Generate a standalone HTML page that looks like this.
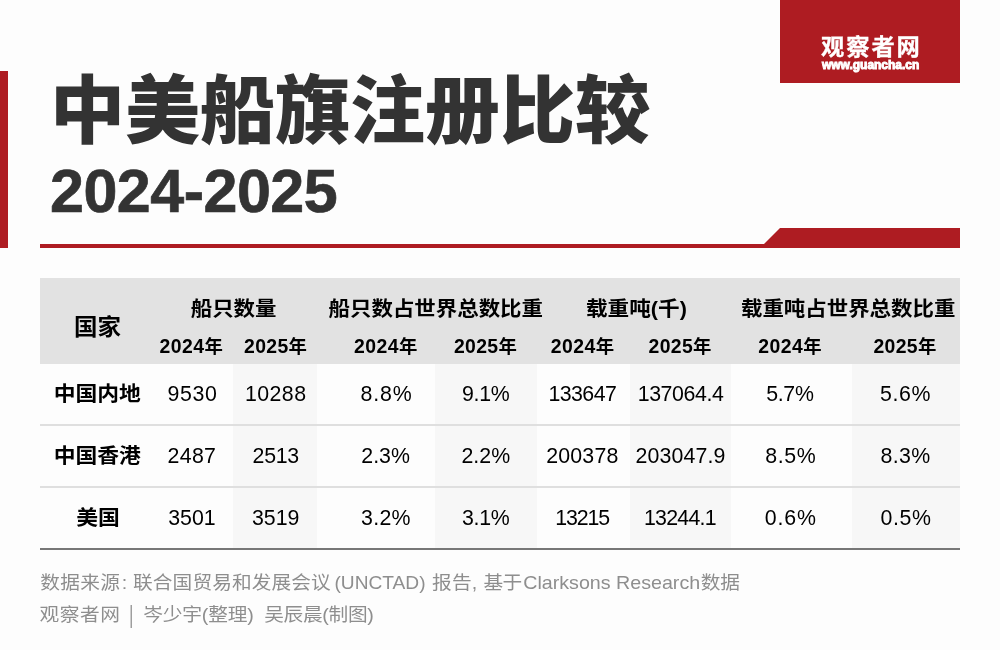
<!DOCTYPE html>
<html lang="zh-CN">
<head>
<meta charset="utf-8">
<title>中美船旗注册比较 2024-2025</title>
<style>
*{box-sizing:border-box;margin:0;padding:0}
html,body{width:1000px;height:650px;overflow:hidden;background:#fdfdfd}
body{position:relative;font-family:"Liberation Sans","Noto Sans CJK SC",sans-serif;color:#000}
.abs{position:absolute;white-space:nowrap}
.accent{left:0;top:71px;width:8px;height:177px;background:#ae1c22}
.logo{left:780px;top:0;width:180px;height:83px;background:#ae1c22;color:#fff}
.logo .cn{left:41px;top:29px;font-size:23.3px;line-height:36px;font-weight:700;letter-spacing:1.9px;-webkit-text-stroke:.3px #fff;transform:scaleY(.96);transform-origin:0 84%}
.logo .url{left:41.5px;top:57px;font-size:11.5px;line-height:16px;font-weight:700;transform-origin:0 50%;-webkit-text-stroke:.9px #fff;transform:scale(1.04,1.08)}
h1{left:50px;top:56px;font-size:75px;line-height:110px;font-weight:900;color:#333;transform:scaleY(.985);transform-origin:0 50%}
h2{left:50px;top:150px;font-size:61px;line-height:82px;font-weight:700;color:#333;letter-spacing:-.5px;-webkit-text-stroke:.7px #333}
.rule{left:0;top:0;width:1000px;height:650px}
table{position:absolute;left:40px;top:278px;width:920px;border-collapse:separate;border-spacing:0;table-layout:fixed;font-size:21.33px}
th,td{white-space:nowrap;text-align:left;vertical-align:middle;padding:0;font-weight:400;line-height:30px}
thead th{background:#e2e2e2;font-weight:700}
thead tr.g th{height:50px;padding-top:12px}
thead tr.y th{height:36px;font-size:18.4px;padding-top:0;padding-bottom:0;letter-spacing:.35px}
thead tr.y th b{font-size:19.4px;font-weight:700}
thead th.c{padding-top:10px;font-size:23px}
tbody td,tbody th{height:62px;border-bottom:2px solid #dfdfdf}
tbody th{font-weight:700}
tbody tr:last-child td,tbody tr:last-child th{border-bottom:2px solid #777}
td.s{background:#f7f7f7}
.k{display:inline-block;transform:scaleY(.945)}
.foot{left:0;font-size:19.7px;line-height:30px;color:#8e8e8e;transform:scaleY(.945)}
.foot span{line-height:0}
.foot #f2b{display:inline-block;transform:scaleX(.62)}
</style>
</head>
<body>
<div class="abs accent"></div>
<div class="abs logo">
  <div class="abs cn">观察者网</div>
  <div class="abs url">www.guancha.cn</div>
</div>
<h1 class="abs">中美船旗注册比较</h1>
<h2 class="abs">2024-2025</h2>
<svg class="abs rule" width="1000" height="650" viewBox="0 0 1000 650" aria-hidden="true">
  <polygon points="40,244 764,244 780,228 960,228 960,248 40,248" fill="#ae1c22"/>
</svg>
<table>
  <colgroup><col style="width:110px"><col style="width:83px"><col style="width:84px"><col style="width:118px"><col style="width:102px"><col style="width:93px"><col style="width:101px"><col style="width:121px"><col style="width:108px"></colgroup>
  <thead>
    <tr class="g">
      <th rowspan="2" class="c" id="hc" style="padding-left:34.00px;font-size:23.47px;"><span class="k">国家</span></th>
      <th colspan="2" id="s0" style="padding-left:40.75px;font-size:21.45px;"><span class="k">船只数量</span></th>
      <th colspan="2" id="s1" style="padding-left:11.60px;font-size:21.45px;"><span class="k">船只数占世界总数比重</span></th>
      <th colspan="2" id="s2" style="padding-left:49.00px;font-size:21.62px;"><span class="k">载重吨(千)</span></th>
      <th colspan="2" id="s3" style="padding-left:10.00px;font-size:21.45px;"><span class="k">载重吨占世界总数比重</span></th>
    </tr>
    <tr class="y">
      <th id="y0" style="padding-left:9.50px;letter-spacing:0.44px;"><b>2024</b>年</th>
      <th id="y1" style="padding-left:11.00px;letter-spacing:0.36px;"><b>2025</b>年</th>
      <th id="y2" style="padding-left:37.00px;letter-spacing:0.44px;"><b>2024</b>年</th>
      <th id="y3" style="padding-left:19.00px;letter-spacing:0.32px;"><b>2025</b>年</th>
      <th id="y4" style="padding-left:13.75px;letter-spacing:0.44px;"><b>2024</b>年</th>
      <th id="y5" style="padding-left:18.50px;letter-spacing:0.35px;"><b>2025</b>年</th>
      <th id="y6" style="padding-left:27.25px;letter-spacing:0.44px;"><b>2024</b>年</th>
      <th id="y7" style="padding-left:21.50px;letter-spacing:0.31px;"><b>2025</b>年</th>
    </tr>
  </thead>
  <tbody>
    <tr>
      <th id="r0" style="padding-left:13.70px;font-size:21.80px;"><span class="k">中国内地</span></th>
      <td id="d00" style="padding-left:17.60px;letter-spacing:0.60px;">9530</td>
      <td id="d01" class="s" style="padding-left:11.90px;letter-spacing:0.45px;">10288</td>
      <td id="d02" style="padding-left:43.50px;letter-spacing:0.90px;">8.8%</td>
      <td id="d03" class="s" style="padding-left:27.00px;letter-spacing:-0.30px;">9.1%</td>
      <td id="d04" style="padding-left:11.50px;letter-spacing:-0.58px;">133647</td>
      <td id="d05" class="s" style="padding-left:7.70px;letter-spacing:-0.40px;">137064.4</td>
      <td id="d06" style="padding-left:35.20px;letter-spacing:-0.30px;">5.7%</td>
      <td id="d07" class="s" style="padding-left:28.00px;letter-spacing:0.60px;">5.6%</td>
    </tr>
    <tr>
      <th id="r1" style="padding-left:13.70px;font-size:21.80px;"><span class="k">中国香港</span></th>
      <td id="d10" style="padding-left:17.60px;letter-spacing:0.30px;">2487</td>
      <td id="d11" class="s" style="padding-left:19.60px;letter-spacing:-0.30px;">2513</td>
      <td id="d12" style="padding-left:44.30px;">2.3%</td>
      <td id="d13" class="s" style="padding-left:26.50px;">2.2%</td>
      <td id="d14" style="padding-left:9.20px;letter-spacing:0.20px;">200378</td>
      <td id="d15" class="s" style="padding-left:5.40px;letter-spacing:0.15px;">203047.9</td>
      <td id="d16" style="padding-left:34.30px;letter-spacing:0.60px;">8.5%</td>
      <td id="d17" class="s" style="padding-left:28.60px;letter-spacing:0.30px;">8.3%</td>
    </tr>
    <tr>
      <th id="r2" style="padding-left:36.20px;font-size:21.80px;"><span class="k">美国</span></th>
      <td id="d20" style="padding-left:18.20px;">3501</td>
      <td id="d21" class="s" style="padding-left:19.00px;">3519</td>
      <td id="d22" style="padding-left:44.00px;letter-spacing:0.30px;">3.2%</td>
      <td id="d23" class="s" style="padding-left:27.00px;letter-spacing:-0.30px;">3.1%</td>
      <td id="d24" style="padding-left:18.30px;letter-spacing:-1.14px;">13215</td>
      <td id="d25" class="s" style="padding-left:14.00px;letter-spacing:-0.75px;">13244.1</td>
      <td id="d26" style="padding-left:33.70px;letter-spacing:0.90px;">0.6%</td>
      <td id="d27" class="s" style="padding-left:28.60px;letter-spacing:0.60px;">0.5%</td>
    </tr>
  </tbody>
</table>
<p class="abs foot" style="top:567.2px"><span id="f1a" style="margin-left:40.30px;font-size:19.70px;letter-spacing:0.30px;">数据来源<span style="margin-left:1.6px">:</span></span> <span id="f1b" style="margin-left:0.00px;font-size:19.70px;letter-spacing:0.07px;">联合国贸易和发展会议</span> <span id="f1c" style="margin-left:-1.75px;font-size:19.17px;">(UNCTAD)</span> <span id="f1d" style="margin-left:1.00px;font-size:19.70px;letter-spacing:0.14px;">报告,</span> <span id="f1e" style="margin-left:0.75px;font-size:19.70px;letter-spacing:-0.87px;">基于</span><span id="f1f" style="margin-left:2.00px;font-size:19.67px;">Clarksons Research</span><span id="f1g" style="margin-left:0.50px;font-size:19.70px;">数据</span></p>
<p class="abs foot" style="top:599.3px"><span id="f2a" style="margin-left:39.50px;font-size:19.70px;letter-spacing:0.54px;">观察者网</span> <span id="f2b" style="margin-left:2.30px;font-size:24.50px;position:relative;top:1.70px;">|</span> <span id="f2c" style="margin-left:3.10px;font-size:19.70px;letter-spacing:-0.15px;">岑少宇(整理)</span> <span id="f2d" style="margin-left:5.00px;font-size:19.70px;letter-spacing:-0.30px;">吴辰晨(制图)</span></p>
</body>
</html>
